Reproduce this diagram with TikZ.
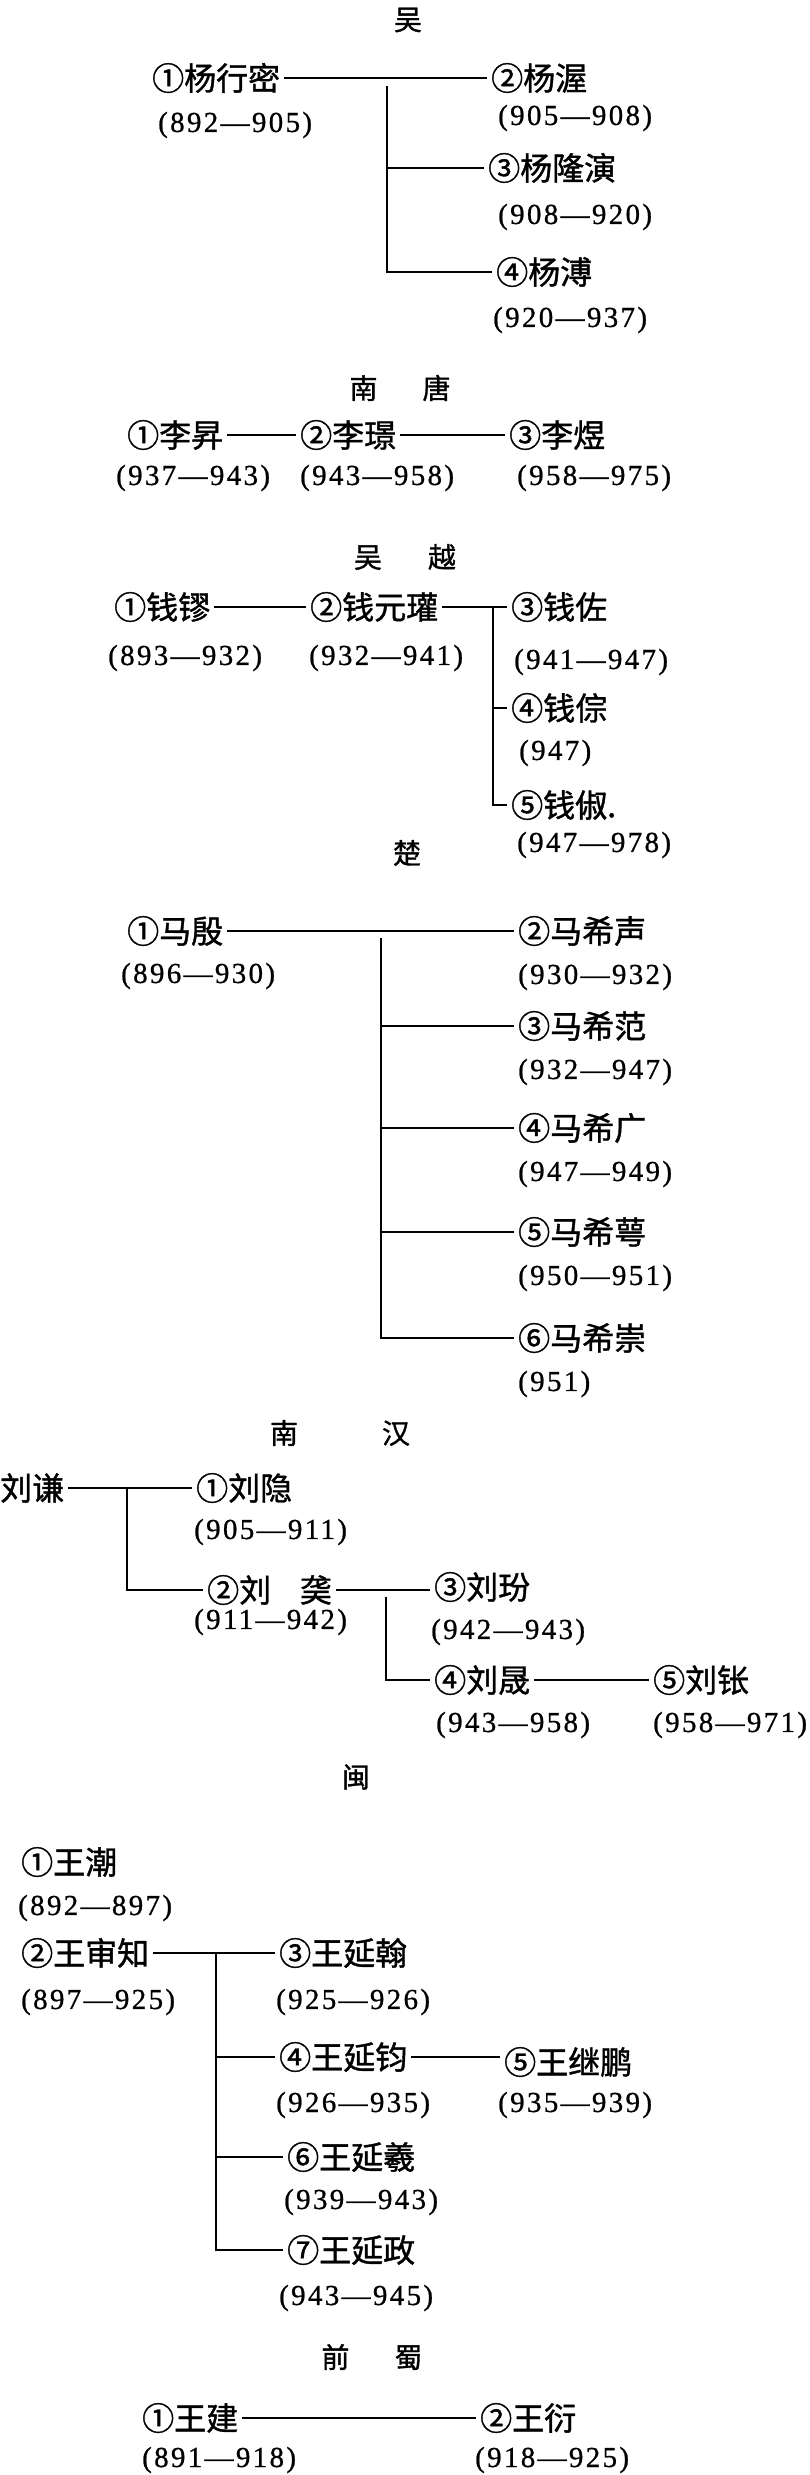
\documentclass[tikz,border=0pt]{standalone}
\usepackage{fontspec}
\usepackage{tikz}
\newfontfamily\cjkfont[FakeBold=1.2]{Noto Sans CJK SC}
\newfontfamily\yearfont[LetterSpace=8,FakeBold=0.8]{Liberation Serif}
\tikzset{
		linkStyle/.style = {line width = 1.5pt},
		ruler/.style =     {anchor=west,inner sep=4pt,font=\cjkfont\fontsize{32}{32}\selectfont},
		reign/.style =     {anchor=west,inner sep=0pt,font=\yearfont\fontsize{29}{29}\selectfont},
		kingdom/.style =   {inner sep=0pt,font=\cjkfont\fontsize{28}{28}\selectfont}
}

\begin{document}
\begin{tikzpicture}[x=1pt,y=-1pt]
  \useasboundingbox (0,0) rectangle (810,2475);

  % Wu
  \node [kingdom] (wuT) at (408,20) {吴};
  \node [ruler] (wu1) at (148,78)  {①杨行密};
  \node [ruler] (wu2) at (487,78)  {②杨渥};
  \node [ruler] (wu3) at (484,168) {③杨隆演};
  \node [ruler] (wu4) at (492,272) {④杨溥};
  \node [reign] (wu1y) at (158,125) {(892—905)};
  \node [reign] (wu2y) at (498,118) {(905—908)};
  \node [reign] (wu3y) at (498,217) {(908—920)};
  \node [reign] (wu4y) at (493,320) {(920—937)};
  \coordinate (wuTop) at (387,86);
  \draw [linkStyle] (wu1.east) -- (wu1.east -| wu2.west);
  \foreach \n in {wu3,wu4}
    \draw [linkStyle] (wuTop) |- (\n.west);

  % Southern Tang
  \node [kingdom] (ntT) at (400,388) {南\hspace{45pt}唐};
  \node [ruler] (nt1) at (123,435) {①李昇};
  \node [ruler] (nt2) at (296,435) {②李璟};
  \node [ruler] (nt3) at (505,435) {③李煜};
  \node [reign] (nt1y) at (116,478) {(937—943)};
  \node [reign] (nt2y) at (300,478) {(943—958)};
  \node [reign] (nt3y) at (517,478) {(958—975)};
  \draw [linkStyle] (nt1.east) -- (nt1.east -| nt2.west);
  \draw [linkStyle] (nt2.east) -- (nt2.east -| nt3.west);

  % Wuyue
  \node [kingdom] (wyT) at (405,557) {吴\hspace{46pt}越};
  \node [ruler] (wy1) at (110,607) {①钱镠};
  \node [ruler] (wy2) at (306,607) {②钱元瓘};
  \node [ruler] (wy3) at (507,607) {③钱佐};
  \node [ruler] (wy4) at (507,708) {④钱倧};
  \node [ruler] (wy5) at (507,805) {⑤钱俶.};
  \node [reign] (wy1y) at (108,658) {(893—932)};
  \node [reign] (wy2y) at (309,658) {(932—941)};
  \node [reign] (wy3y) at (514,662) {(941—947)};
  \node [reign] (wy4y) at (519,753) {(947)};
  \node [reign] (wy5y) at (517,845) {(947—978)};
  \coordinate (wyTop) at (493,607);
  \draw [linkStyle] (wy1.east) -- (wy1.east -| wy2.west);
  \draw [linkStyle] (wy2.east) -- (wy2.east -| wy3.west);
  \foreach \n in {wy4,wy5}
    \draw [linkStyle] (wyTop) |- (\n.west);

  % Chu
  \node [kingdom] (chT) at (407,853) {楚};
  \node [ruler] (ch1) at (123,931) {①马殷};
  \node [reign] (ch1y) at (121,976) {(896—930)};
  \foreach \txt/\yy/\yrs [count=\i from 2] in
      {②马希声/931/(930—932), ③马希范/1026/(932—947), ④马希广/1128/(947—949),
       ⑤马希萼/1232/(950—951), ⑥马希崇/1338/(951)}
    {
      \node [ruler] (ch\i) at (514,\yy) {\txt};
      \node [reign] (ch\i y) at (518,\yy+46) {\yrs};
    }
  \coordinate (chTop) at (381,938);
  \draw [linkStyle] (ch1.east) -- (ch1.east -| ch2.west);
  \foreach \n in {ch3,ch4,ch5,ch6}
    \draw [linkStyle] (chTop) |- (\n.west);

  % Southern Han
  \node [kingdom] (nhT) at (340,1433) {南\hspace{84pt}汉};
  \node [ruler] (nh0) at (-4,1488)  {刘谦};
  \node [ruler] (nh1) at (192,1488) {①刘隐};
  \node [ruler] (nh2) at (203,1590) {②刘\hspace{0.9em}䶮};
  \node [ruler] (nh3) at (430,1587) {③刘玢};
  \node [ruler] (nh4) at (430,1680) {④刘晟};
  \node [ruler] (nh5) at (649,1680) {⑤刘𬬮};
  \node [reign] (nh1y) at (194,1532) {(905—911)};
  \node [reign] (nh2y) at (194,1622) {(911—942)};
  \node [reign] (nh3y) at (431,1632) {(942—943)};
  \node [reign] (nh4y) at (436,1725) {(943—958)};
  \node [reign] (nh5y) at (653,1725) {(958—971)};
  \coordinate (nhTopA) at (127,1488);
  \coordinate (nhTopB) at (386,1597);
  \draw [linkStyle] (nh0.east) -- (nh0.east -| nh1.west);
  \draw [linkStyle] (nhTopA) |- (nh2.west);
  \draw [linkStyle] (nh2.east) -- (nh2.east -| nh3.west);
  \draw [linkStyle] (nhTopB) |- (nh4.west);
  \draw [linkStyle] (nh4.east) -- (nh4.east -| nh5.west);

  % Min
  \node [kingdom] (mnT) at (356,1777) {闽};
  \node [ruler] (mn1) at (17,1862)  {①王潮};
  \node [ruler] (mn2) at (17,1953)  {②王审知};
  \node [ruler] (mn3) at (275,1953) {③王延翰};
  \node [ruler] (mn4) at (275,2057) {④王延钧};
  \node [ruler] (mn5) at (500,2062) {⑤王继鹏};
  \node [ruler] (mn6) at (283,2157) {⑥王延羲};
  \node [ruler] (mn7) at (283,2250) {⑦王延政};
  \node [reign] (mn1y) at (18,1908)  {(892—897)};
  \node [reign] (mn2y) at (21,2002)  {(897—925)};
  \node [reign] (mn3y) at (276,2002) {(925—926)};
  \node [reign] (mn4y) at (276,2105) {(926—935)};
  \node [reign] (mn5y) at (498,2105) {(935—939)};
  \node [reign] (mn6y) at (284,2202) {(939—943)};
  \node [reign] (mn7y) at (279,2298) {(943—945)};
  \coordinate (mnTop) at (216,1953);
  \draw [linkStyle] (mn2.east) -- (mn2.east -| mn3.west);
  \draw [linkStyle] (mn4.east) -- (mn4.east -| mn5.west);
  \foreach \n in {mn4,mn6,mn7}
    \draw [linkStyle] (mnTop) |- (\n.west);

  % Former Shu
  \node [kingdom] (qsT) at (372,2357) {前\hspace{45pt}蜀};
  \node [ruler] (qs1) at (138,2418) {①王建};
  \node [ruler] (qs2) at (476,2418) {②王衍};
  \node [reign] (qs1y) at (142,2460) {(891—918)};
  \node [reign] (qs2y) at (475,2460) {(918—925)};
  \draw [linkStyle] (qs1.east) -- (qs1.east -| qs2.west);

\end{tikzpicture}
\end{document}
